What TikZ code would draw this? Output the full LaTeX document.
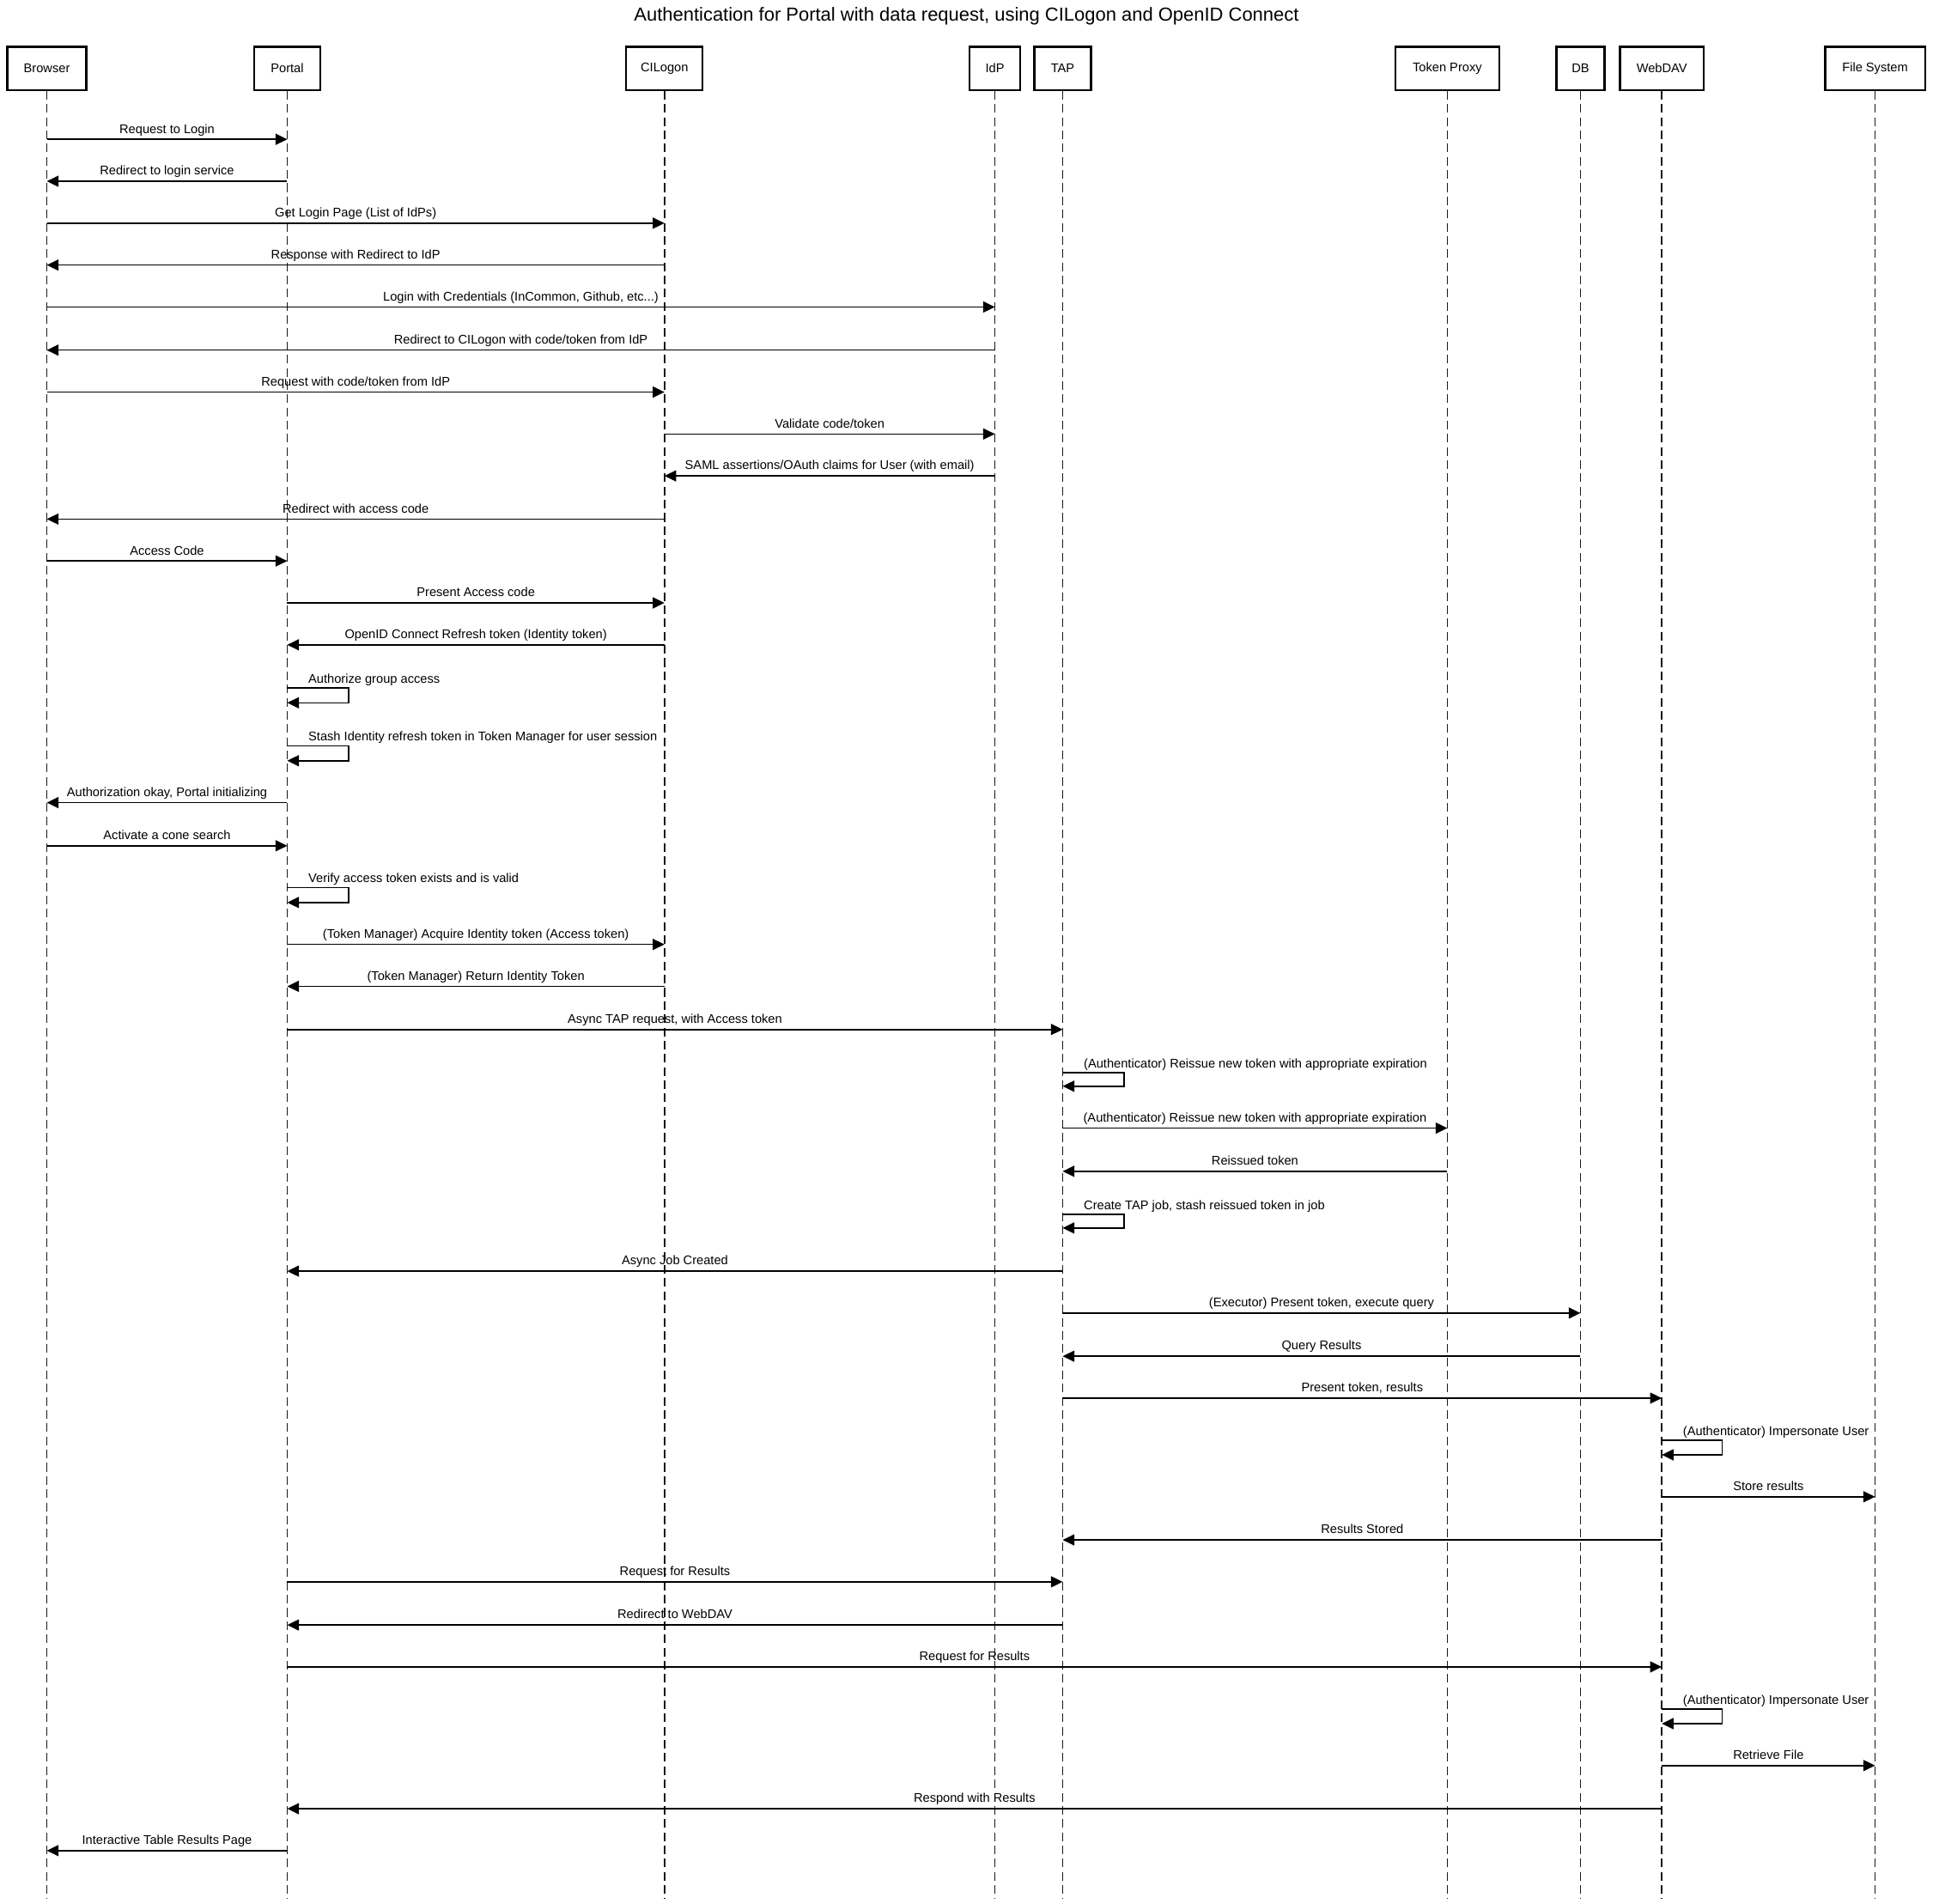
\documentclass[tikz,border=0pt]{standalone}
\usepackage{fontspec}
\setmainfont{Liberation Sans}
\usetikzlibrary{arrows.meta}

\tikzset{
    actor/.style={draw, line width=1.6pt, minimum height=35pt, inner sep=0pt,
        font=\fontsize{10.2}{12}\selectfont},
    lifeline/.style={black!90, line width=1pt, dash pattern=on 7pt off 3.7pt},
    msgline/.style={black, line width=1.1pt, -{Triangle[length=9.5pt,width=9pt]}},
    msgtext/.style={font=\fontsize{10.2}{12}\selectfont, inner sep=0pt, anchor=base, yshift=5pt},
    selftext/.style={font=\fontsize{10.2}{12}\selectfont, inner sep=0pt, anchor=base west,
        xshift=17pt, yshift=4pt}
}

\begin{document}
\begin{tikzpicture}[x=1pt, y=-1pt]
            \useasboundingbox (0,0) rectangle (1568,1544);

            \node[font=\fontsize{15.3}{18}\selectfont] (title) at (784,13)
                {Authentication for Portal with data request, using CILogon and OpenID Connect};

            % participants
            \node[actor, minimum width=64pt] (browser) at (38,55.5) {Browser};
            \node[actor, minimum width=54pt] (portal) at (233,55.5) {Portal};
            \node[actor, minimum width=62pt] (cilogon) at (539,55.5) {CILogon};
            \node[actor, minimum width=41pt] (idp) at (807,55.5) {IdP};
            \node[actor, minimum width=46pt] (tap) at (862,55.5) {TAP};
            \node[actor, minimum width=84pt] (proxy) at (1174,55.5) {Token Proxy};
            \node[actor, minimum width=39pt] (db) at (1282,55.5) {DB};
            \node[actor, minimum width=68pt] (webdav) at (1348,55.5) {WebDAV};
            \node[actor, minimum width=81pt] (files) at (1521,55.5) {File System};

            \coordinate (bottom) at (0,1540);
            \foreach \p in {browser, portal, cilogon, idp, tap, proxy, db, webdav, files}
                \draw[lifeline] (\p.south) -- (\p |- bottom);

            % login
            \draw[msgline] (browser |- 0,113) -- (portal |- 0,113) node[msgtext, midway] {Request to Login};
            \draw[msgline] (portal |- 0,147) -- (browser |- 0,147) node[msgtext, midway] {Redirect to login service};
            \draw[msgline] (browser |- 0,181) -- (cilogon |- 0,181) node[msgtext, midway] {Get Login Page (List of IdPs)};
            \draw[msgline] (cilogon |- 0,215) -- (browser |- 0,215) node[msgtext, midway] {Response with Redirect to IdP};
            \draw[msgline] (browser |- 0,249) -- (idp |- 0,249) node[msgtext, midway] {Login with Credentials (InCommon, Github, etc...)};
            \draw[msgline] (idp |- 0,284) -- (browser |- 0,284) node[msgtext, midway] {Redirect to CILogon with code/token from IdP};
            \draw[msgline] (browser |- 0,318) -- (cilogon |- 0,318) node[msgtext, midway] {Request with code/token from IdP};
            \draw[msgline] (cilogon |- 0,352) -- (idp |- 0,352) node[msgtext, midway] {Validate code/token};
            \draw[msgline] (idp |- 0,386) -- (cilogon |- 0,386) node[msgtext, midway] {SAML assertions/OAuth claims for User (with email)};
            \draw[msgline] (cilogon |- 0,421) -- (browser |- 0,421) node[msgtext, midway] {Redirect with access code};
            \draw[msgline] (browser |- 0,455) -- (portal |- 0,455) node[msgtext, midway] {Access Code};
            \draw[msgline] (portal |- 0,489) -- (cilogon |- 0,489) node[msgtext, midway] {Present Access code};
            \draw[msgline] (cilogon |- 0,523) -- (portal |- 0,523) node[msgtext, midway] {OpenID Connect Refresh token (Identity token)};
            \draw[msgline] (portal |- 0,558) -- ++(50,0) -- ++(0,12) -- (portal |- 0,570);
            \node[selftext] at (portal |- 0,558) {Authorize group access};
            \draw[msgline] (portal |- 0,605) -- ++(50,0) -- ++(0,12) -- (portal |- 0,617);
            \node[selftext] at (portal |- 0,605) {Stash Identity refresh token in Token Manager for user session};
            \draw[msgline] (portal |- 0,651) -- (browser |- 0,651) node[msgtext, midway] {Authorization okay, Portal initializing};

            % data request
            \draw[msgline] (browser |- 0,686) -- (portal |- 0,686) node[msgtext, midway] {Activate a cone search};
            \draw[msgline] (portal |- 0,720) -- ++(50,0) -- ++(0,12) -- (portal |- 0,732);
            \node[selftext] at (portal |- 0,720) {Verify access token exists and is valid};
            \draw[msgline] (portal |- 0,766) -- (cilogon |- 0,766) node[msgtext, midway] {(Token Manager) Acquire Identity token (Access token)};
            \draw[msgline] (cilogon |- 0,800) -- (portal |- 0,800) node[msgtext, midway] {(Token Manager) Return Identity Token};
            \draw[msgline] (portal |- 0,835) -- (tap |- 0,835) node[msgtext, midway] {Async TAP request, with Access token};
            \draw[msgline] (tap |- 0,870) -- ++(50,0) -- ++(0,11) -- (tap |- 0,881);
            \node[selftext] at (tap |- 0,870) {(Authenticator) Reissue new token with appropriate expiration};
            \draw[msgline] (tap |- 0,915) -- (proxy |- 0,915) node[msgtext, midway] {(Authenticator) Reissue new token with appropriate expiration};
            \draw[msgline] (proxy |- 0,950) -- (tap |- 0,950) node[msgtext, midway] {Reissued token};
            \draw[msgline] (tap |- 0,985) -- ++(50,0) -- ++(0,11) -- (tap |- 0,996);
            \node[selftext] at (tap |- 0,985) {Create TAP job, stash reissued token in job};
            \draw[msgline] (tap |- 0,1031) -- (portal |- 0,1031) node[msgtext, midway] {Async Job Created};
            \draw[msgline] (tap |- 0,1065) -- (db |- 0,1065) node[msgtext, midway] {(Executor) Present token, execute query};
            \draw[msgline] (db |- 0,1100) -- (tap |- 0,1100) node[msgtext, midway] {Query Results};
            \draw[msgline] (tap |- 0,1134) -- (webdav |- 0,1134) node[msgtext, midway] {Present token, results};
            \draw[msgline] (webdav |- 0,1168) -- ++(49,0) -- ++(0,12) -- (webdav |- 0,1180);
            \node[selftext] at (webdav |- 0,1168) {(Authenticator) Impersonate User};
            \draw[msgline] (webdav |- 0,1214) -- (files |- 0,1214) node[msgtext, midway] {Store results};
            \draw[msgline] (webdav |- 0,1249) -- (tap |- 0,1249) node[msgtext, midway] {Results Stored};

            % results
            \draw[msgline] (portal |- 0,1283) -- (tap |- 0,1283) node[msgtext, midway] {Request for Results};
            \draw[msgline] (tap |- 0,1318) -- (portal |- 0,1318) node[msgtext, midway] {Redirect to WebDAV};
            \draw[msgline] (portal |- 0,1352) -- (webdav |- 0,1352) node[msgtext, midway] {Request for Results};
            \draw[msgline] (webdav |- 0,1386) -- ++(49,0) -- ++(0,12) -- (webdav |- 0,1398);
            \node[selftext] at (webdav |- 0,1386) {(Authenticator) Impersonate User};
            \draw[msgline] (webdav |- 0,1432) -- (files |- 0,1432) node[msgtext, midway] {Retrieve File};
            \draw[msgline] (webdav |- 0,1467) -- (portal |- 0,1467) node[msgtext, midway] {Respond with Results};
            \draw[msgline] (portal |- 0,1501) -- (browser |- 0,1501) node[msgtext, midway] {Interactive Table Results Page};
        \end{tikzpicture}
\end{document}
